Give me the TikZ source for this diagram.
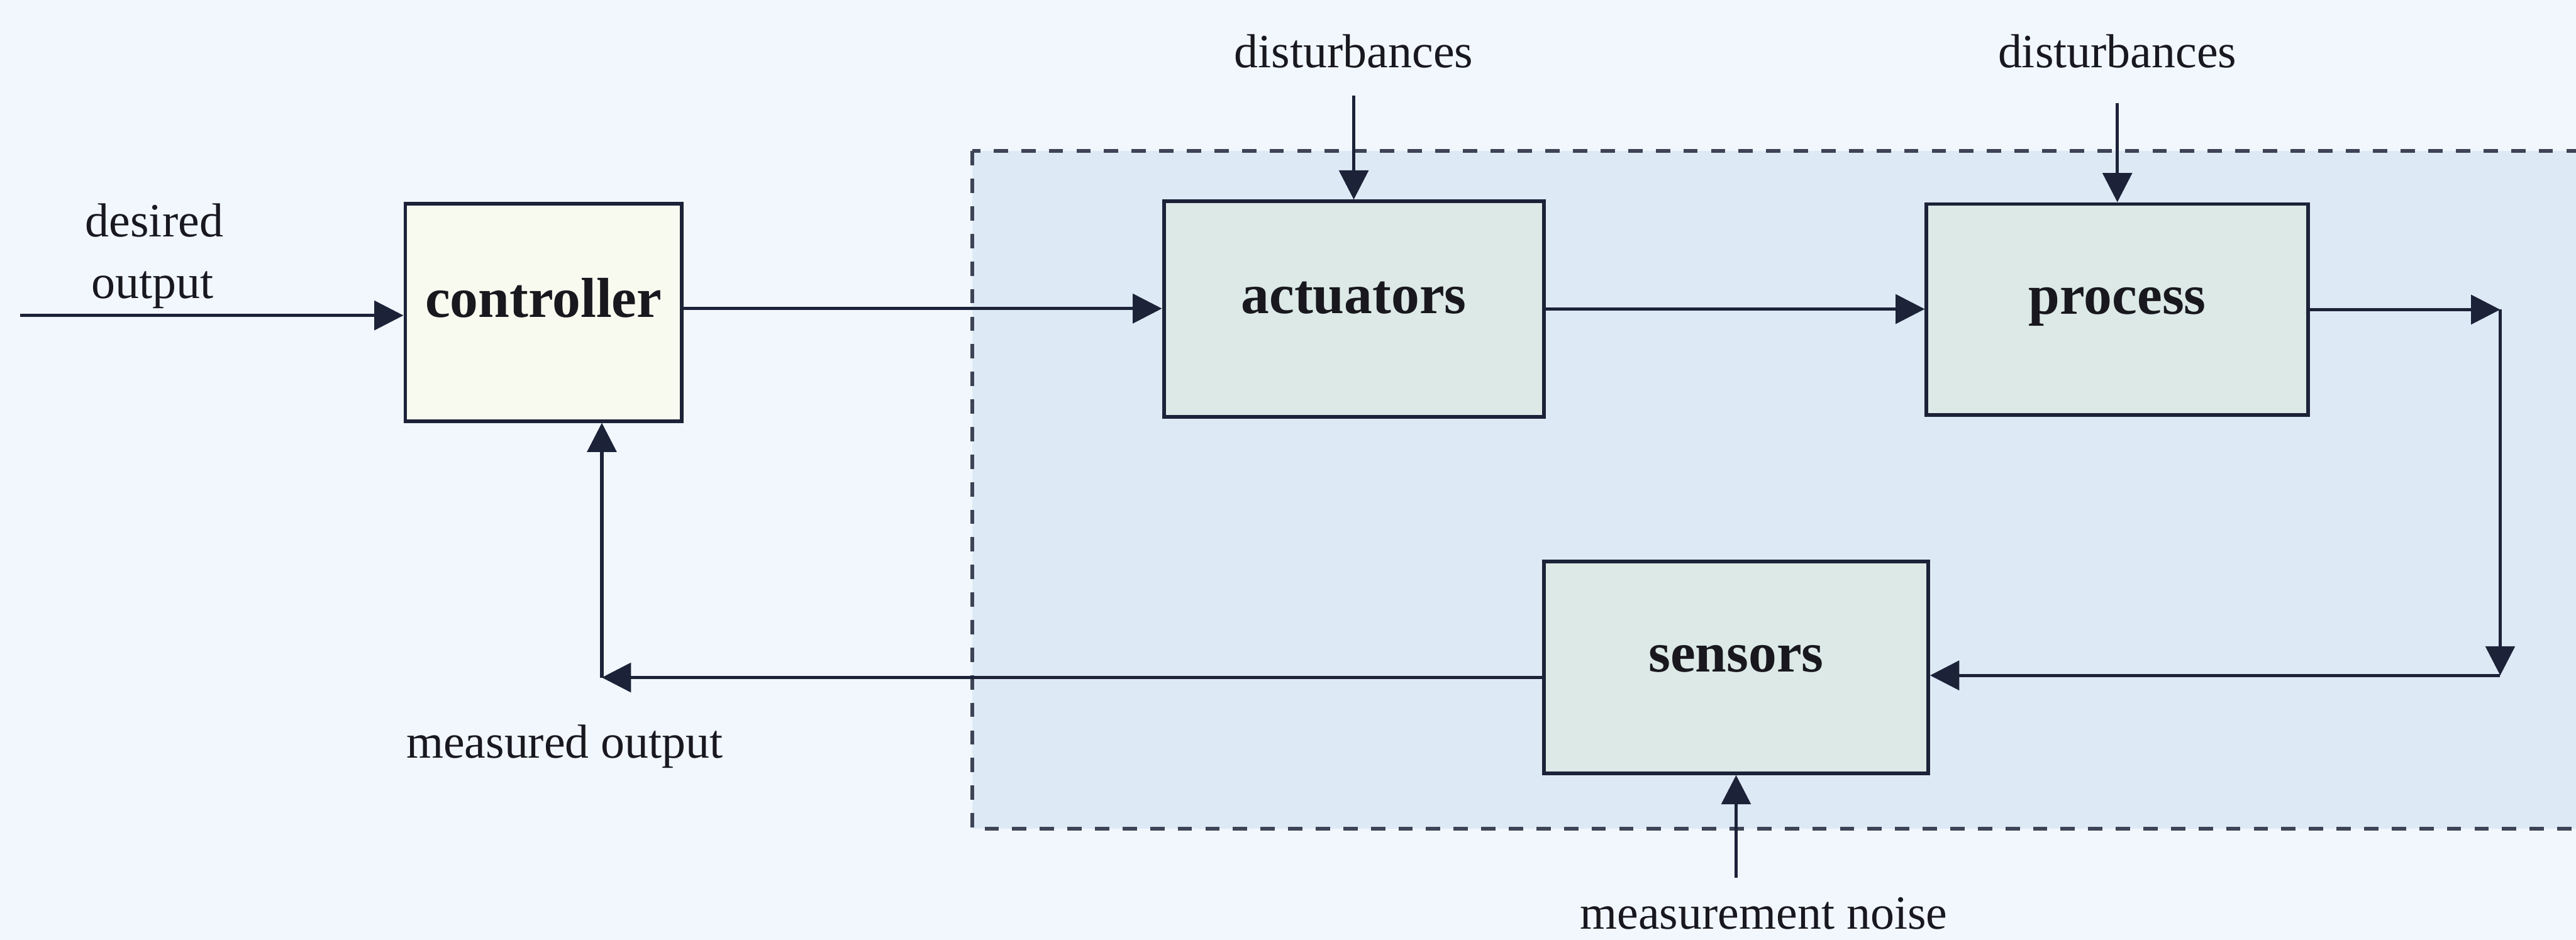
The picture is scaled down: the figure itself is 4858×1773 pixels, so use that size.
\documentclass[tikz,border=0pt]{standalone}
\usepackage{fontspec}
\setmainfont{Liberation Serif}
\usetikzlibrary{arrows.meta}
\definecolor{pagebg}{HTML}{F1F7FC}
\definecolor{regionbg}{HTML}{DDEAF6}
\definecolor{boxfill}{HTML}{DCE9E6}
\definecolor{ctrlfill}{HTML}{F8FAEF}
\definecolor{ink}{HTML}{1C2238}
\definecolor{textink}{HTML}{18181E}
\tikzset{
  blockbox/.style={draw=ink, line width=0.07cm, rectangle, inner sep=0pt,
    font=\fontsize{30.2}{36}\selectfont\bfseries, text=textink,
    text height=0.7em, text depth=0.2em},
  arr/.style={draw=ink, line width=0.06cm, -{Triangle[length=0.55cm,width=0.55cm]}},
  lbl/.style={font=\fontsize{25.6}{30}\selectfont, text=textink, inner sep=0pt, anchor=base},
  regionbox/.style={fill=regionbg, draw=ink!85, line width=0.07cm, dash pattern=on 0.27cm off 0.25cm},
}
\begin{document}
\begin{tikzpicture}[x=0.01cm,y=-0.01cm]
\useasboundingbox (0,0) rectangle (4858,1773);
\clip (0,0) rectangle (4858,1773);
\fill[pagebg] (0,0) rectangle (4858,1773);
\filldraw[regionbox] (1834,285) rectangle (4960,1563);

\node[blockbox, fill=ctrlfill, minimum width=5.21cm, minimum height=4.10cm] (ctrl) at (1025,589) {controller};
\node[blockbox, fill=boxfill, minimum width=7.16cm, minimum height=4.06cm] (act) at (2553,583) {actuators};
\node[blockbox, fill=boxfill, minimum width=7.19cm, minimum height=3.98cm] (proc) at (3993,584) {process};
\node[blockbox, fill=boxfill, minimum width=7.24cm, minimum height=3.99cm] (sens) at (3274,1259) {sensors};

\coordinate (in) at (38,595);
\draw[arr] (in) -- (in -| ctrl.west);
\coordinate (c2a) at (1286,582);
\draw[arr] (c2a) -- (c2a -| act.west);
\draw[arr] (act.east) -- (act.east -| proc.west);
\coordinate (rc1) at (4715,584);
\coordinate (rc2) at (4715,1274);
\draw[arr] (proc.east) -- (rc1);
\draw[arr] (rc1) -- (rc2);
\draw[arr] (rc2) -- (rc2 -| sens.east);
\coordinate (lc) at (1135,1278);
\draw[arr] (lc -| sens.west) -- (lc);
\draw[arr] (lc) -- (lc |- ctrl.south);

\coordinate (d1) at (2553,180);
\draw[arr] (d1) -- (act.north);
\node[lbl] (d1t) at (2553,127) {disturbances};
\coordinate (d2) at (3993,195);
\draw[arr] (d2) -- (proc.north);
\node[lbl] (d2t) at (3993,127) {disturbances};
\coordinate (mn) at (3274,1656);
\draw[arr] (mn) -- (sens.south);
\node[lbl] (mnt) at (3326,1752) {measurement noise};
\node[lbl] (mot) at (1065,1430) {measured output};
\node[lbl] (do1) at (291,447) {desired};
\node[lbl] (do2) at (288,563) {output};
\end{tikzpicture}
\end{document}
